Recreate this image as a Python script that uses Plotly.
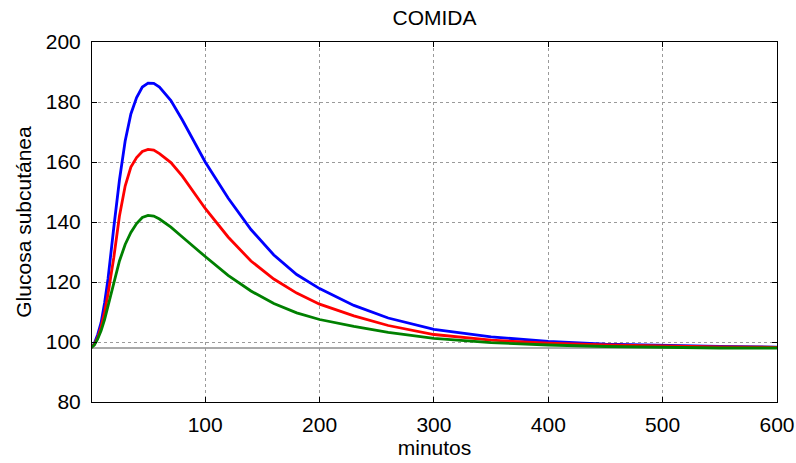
import plotly.graph_objects as go

t = [0, 3, 6, 9, 12, 15, 20, 25, 30, 35, 40, 45, 50, 55, 60, 70, 80, 90, 100,
     120, 140, 160, 180, 200, 230, 260, 300, 350, 400, 450, 500, 550, 600]
blue = [98, 99.5, 102.5, 106.5, 113, 121, 138, 154, 167, 176, 181.5, 185, 186.3,
        186.2, 185, 180.5, 174, 167, 160, 148, 137.5, 129, 122.5, 117.8, 112.2,
        108, 104.2, 101.7, 100.2, 99.3, 98.8, 98.5, 98.3]
red = [98, 99.2, 101.5, 105, 110, 116, 128, 142, 152, 158.3, 161.5, 163.5,
       164.2, 164, 162.8, 159.8, 155.3, 150, 144.5, 135, 127, 121, 116.3, 112.6,
       108.7, 105.5, 102.5, 100.6, 99.6, 99, 98.6, 98.4, 98.2]
green = [98, 99, 101, 103.8, 107.5, 112, 120, 127, 132.5, 136.5, 139.5, 141.5,
         142.2, 142, 141, 138.3, 135, 131.7, 128.5, 122.2, 117, 112.8, 109.7,
         107.5, 105.2, 103.2, 101.2, 99.8, 99, 98.5, 98.2, 98, 98]
baseline = 98
x_ticks = [100, 200, 300, 400, 500, 600]
y_ticks = [80, 100, 120, 140, 160, 180, 200]

FONT = "Liberation Sans, Arial, sans-serif"
FS = 21

fig = go.Figure()
fig.add_shape(type="line", xref="paper", yref="y", x0=0, x1=1,
              y0=baseline, y1=baseline, line=dict(color="#555555", width=1),
              layer="below")
for vals, col in [(blue, "#0000FF"), (red, "#FF0000"), (green, "#008000")]:
    fig.add_trace(go.Scatter(x=t, y=vals, mode="lines",
                             line=dict(color=col, width=2.8),
                             showlegend=False, hoverinfo="skip"))

axis_common = dict(showline=True, linecolor="black", linewidth=1, mirror="ticks",
                   ticks="inside", ticklen=5, tickcolor="black",
                   showgrid=True, gridcolor="#9a9a9a", griddash="dot", gridwidth=1,
                   zeroline=False, tickfont=dict(size=FS, color="black", family=FONT))

fig.update_xaxes(range=[1, 600], tickvals=x_ticks, ticklabelstandoff=4,
                 title=dict(text="minutos", font=dict(size=FS, color="black", family=FONT),
                            standoff=2),
                 **axis_common)
fig.update_yaxes(range=[80, 200], tickvals=y_ticks, ticklabelstandoff=6,
                 title=dict(text="Glucosa subcutánea", font=dict(size=FS, color="black", family=FONT),
                            standoff=8),
                 **axis_common)

fig.update_layout(
    width=796, height=463,
    margin=dict(l=92, r=19, t=42, b=61, autoexpand=False),
    paper_bgcolor="white", plot_bgcolor="white",
    title=dict(text="COMIDA", x=0.5, xref="paper", xanchor="center",
               y=1 - 17.5 / 463, yanchor="middle",
               font=dict(size=FS, color="black", family=FONT)),
    font=dict(family=FONT, color="black"),
)

fig.write_html("out.html", config={"displayModeBar": False},
               post_script="document.body.style.margin='0px';document.body.style.padding='0px';")
